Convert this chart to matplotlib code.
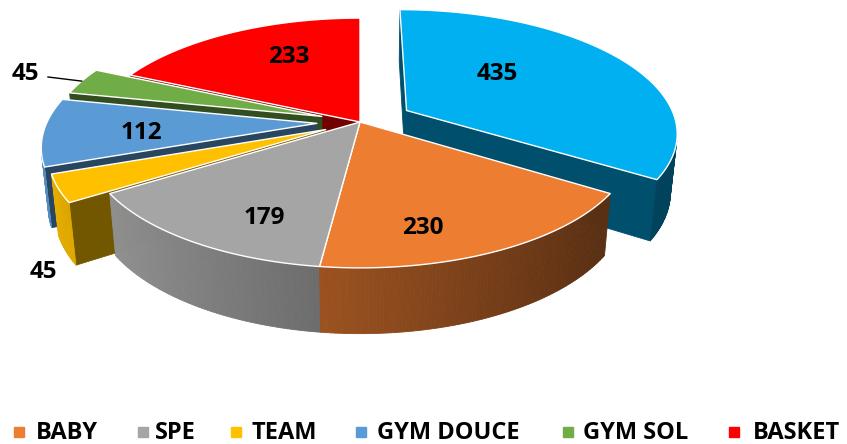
import numpy as np
import matplotlib
matplotlib.use("Agg")
import matplotlib.pyplot as plt
from matplotlib.patches import Polygon
from matplotlib.colors import to_rgb

# ---------------- data ----------------
categories = ["", "BABY", "SPE", "TEAM", "GYM DOUCE", "GYM SOL", "BASKET"]
values = [435, 230, 179, 45, 112, 45, 233]
explode = [0.2, 0.0, 0.0, 0.14, 0.16, 0.15, 0.0]

# ---------------- style ----------------
colors = ["#00B0F0", "#ED7D31", "#A5A5A5", "#FFC000", "#5B9BD5", "#70AD47", "#FF0000"]
label_xy = [(497, 74), (423, 228), (264, 218), (43, 272), (141, 133), (25, 74), (289, 57)]
legend_marker_x = [19, 143, 236, 361, 568, 734]
legend_text_x = [36, 155, 251, 377, 583, 753]
legend_y = 433
FONT = ["Open Sans", "DejaVu Sans"]

W, H = 847, 444
# perspective camera
FX, FY, D, PHI = 1430.0, 1412.0, 5.3, np.radians(27.1)
CX, CY = 360.0, 122.0
THICK = 0.25
cph, sph = np.cos(PHI), np.sin(PHI)
cam = np.array([0.0, -D * cph, D * sph])


def proj(X, Y, Z):
    depth = D + Y * cph - Z * sph
    return CX + FX * X / depth, CY - FY * (Y * sph + Z * cph) / depth


def depth_of(X, Y, Z):
    return D + Y * cph - Z * sph


def shade(c, f):
    r, g, b = to_rgb(c)
    return (min(r * f, 1), min(g * f, 1), min(b * f, 1))


fig = plt.figure(figsize=(W / 100, H / 100), dpi=100)
ax = fig.add_axes([0, 0, 1, 1])
ax.set_xlim(0, W)
ax.set_ylim(H, 0)
ax.axis("off")

total = float(sum(values))
bounds = np.concatenate([[0], np.cumsum(values)]) / total * 360.0

walls = []
tops = []
leader_pts = {}

for i, v in enumerate(values):
    a0, a1 = bounds[i], bounds[i + 1]
    am = np.radians((a0 + a1) / 2)
    ox, oy = explode[i] * np.sin(am), explode[i] * np.cos(am)
    n = max(3, int((a1 - a0) * 1.5))
    th = np.radians(np.linspace(a0, a1, n))
    rx, ry = ox + np.sin(th), oy + np.cos(th)

    # top face
    pts = [proj(ox, oy, 0)] + [proj(x, y, 0) for x, y in zip(rx, ry)]
    tops.append((pts, colors[i]))
    leader_pts[i] = proj(ox + np.sin(am), oy + np.cos(am), 0)

    # outer wall segments
    for j in range(n - 1):
        tm = (th[j] + th[j + 1]) / 2
        nrm = np.array([np.sin(tm), np.cos(tm), 0.0])
        P = np.array([ox + np.sin(tm), oy + np.cos(tm), -THICK / 2])
        if nrm @ (cam - P) <= 0:
            continue
        quad = [proj(rx[j], ry[j], 0), proj(rx[j + 1], ry[j + 1], 0),
                proj(rx[j + 1], ry[j + 1], -THICK), proj(rx[j], ry[j], -THICK)]
        f = np.clip(0.62 - 0.30 * np.sin(tm), 0.38, 0.92)
        c = shade(colors[i], f)
        walls.append((depth_of(*P), quad, c, c, 0.6))

    # radial walls
    for ang, sgn in ((np.radians(a0), -1), (np.radians(a1), 1)):
        nrm = sgn * np.array([np.cos(ang), -np.sin(ang), 0.0])
        ex, ey = ox + np.sin(ang), oy + np.cos(ang)
        P = np.array([(ox + ex) / 2, (oy + ey) / 2, -THICK / 2])
        if nrm @ (cam - P) <= 0:
            continue
        quad = [proj(ox, oy, 0), proj(ex, ey, 0), proj(ex, ey, -THICK), proj(ox, oy, -THICK)]
        c = shade(colors[i], 0.45)
        walls.append((depth_of(*P), quad, c, c, 0.6))

walls.sort(key=lambda w: -w[0])
z = 1
for d, quad, fc, ec, lw in walls:
    ax.add_patch(Polygon(quad, closed=True, facecolor=fc, edgecolor=ec, lw=lw, zorder=z))
    z += 0.001
for pts, c in tops:
    ax.add_patch(Polygon(pts, closed=True, facecolor=c, edgecolor="white", lw=1.0,
                         joinstyle="round", zorder=3))

# data labels
for i, v in enumerate(values):
    x, y = label_xy[i]
    ax.text(x, y, str(v), ha="center", va="center", fontsize=17.5, fontweight="bold",
            family=FONT, color="black", zorder=5)
# leader line for the small outside label at top-left
lx, ly = leader_pts[5]
ax.plot([label_xy[5][0] + 23, lx], [label_xy[5][1] + 3, ly], color="black", lw=1, zorder=5)

# legend
leg = 0
for i, cat in enumerate(categories):
    if not cat:
        continue
    ax.plot(legend_marker_x[leg], legend_y - 1, marker="s", markersize=7.2, color=colors[i],
            linestyle="none", zorder=5)
    ax.text(legend_text_x[leg], legend_y, cat, ha="left", va="center", fontsize=17,
            fontweight="bold", family=FONT, color="black", zorder=5)
    leg += 1

fig.savefig("out.png", dpi=100)
